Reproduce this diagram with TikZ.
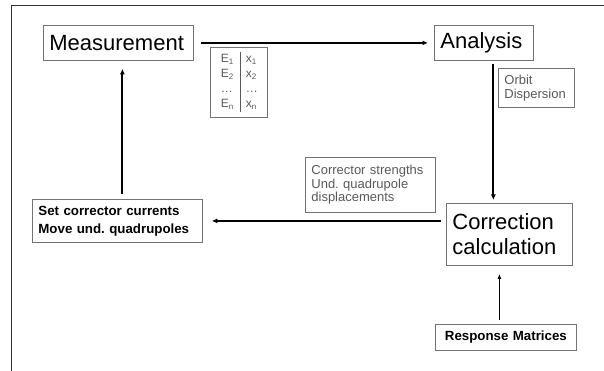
\documentclass[tikz,border=0pt]{standalone}
\usepackage{fontspec}
\setmainfont{Liberation Sans}
\usepackage{tikz}
\usetikzlibrary{arrows.meta}
\usetikzlibrary{positioning,calc}
\frenchspacing
\colorlet{boxline}{black!55}
\colorlet{smalltext}{black!65}
\newcommand{\bigfont}{\fontsize{22}{25}\selectfont}
\newcommand{\midfont}{\fontsize{13.3}{18}\selectfont\bfseries}
\newcommand{\smallfont}{\fontsize{13}{13.5}\selectfont}

\begin{document}
\begin{tikzpicture}[
x=1pt,y=-1pt,
Boxes/.style={draw=boxline,line width=0.8pt,anchor=north west,inner sep=6pt,align=left},
Arrows/.style={-{Latex[length=5.5pt, width=5pt]},line width=2pt},
ThinArrows/.style={-{Latex[length=5pt, width=4pt]},line width=1.2pt}
]
\useasboundingbox (0,0) rectangle (604,371);

% frame of the slide
\draw[line width=0.9pt,black!80] (11,371)--(11,5)--(604,5);

% main blocks
\node[Boxes,font=\bigfont,text width=138pt,minimum height=35pt] (meas) at (43,25) {Measurement};
\node[Boxes,font=\bigfont,text width=87pt,minimum height=35pt] (anal) at (434,25) {Analysis};
\node[Boxes,font=\bigfont,text width=114pt,minimum height=62pt] (corr) at (446,203) {Correction\\calculation};
\node[Boxes,font=\midfont,text width=158pt,minimum height=43pt] (setcur) at (32,199) {Set corrector currents\\Move und. quadrupoles};
\node[Boxes,font=\midfont,text width=129pt,minimum height=26pt,align=center] (resp) at (435,324) {Response Matrices};

% small labels
\node[Boxes,inner sep=0pt,minimum width=57pt,minimum height=70pt] (tab) at (210,47)
{\fontsize{12}{15}\selectfont\color{smalltext}%
\begin{tabular}{@{\hspace{5pt}}l|l@{\hspace{4pt}}}
E\textsubscript{1} & x\textsubscript{1}\\
E\textsubscript{2} & x\textsubscript{2}\\
\ldots & \ldots\\
E\textsubscript{n} & x\textsubscript{n}
\end{tabular}};
\node[Boxes,font=\smallfont,text=smalltext,text width=64pt,minimum height=39pt] (orbit) at (498,68) {Orbit\\Dispersion};
\node[Boxes,font=\smallfont,text=smalltext,text width=118pt,minimum height=55pt] (strength) at (305,157) {Corrector strengths\\Und. quadrupole\\displacements};

% connectors
\coordinate (a1) at ([xshift=7pt]meas.east);
\draw[Arrows] (a1) -- ([xshift=-6pt]anal.west);

\coordinate (a2) at ($(anal.south)+(9.5,3)$);
\draw[Arrows] (a2) -- ($(a2 |- corr.north)+(0,-3)$);

\coordinate (a3) at ($(corr.west |- setcur.east)+(-5,0)$);
\draw[Arrows] (a3) -- ([xshift=9pt]setcur.east);

\coordinate (a4) at ($(setcur.north)+(5,-5)$);
\draw[Arrows] (a4) -- ($(a4 |- meas.south)+(0,8)$);

\coordinate (a5) at ($(resp.north)+(-6.5,-4)$);
\draw[ThinArrows] (a5) -- ($(a5 |- corr.south)+(0,8)$);

\end{tikzpicture}
\end{document}
